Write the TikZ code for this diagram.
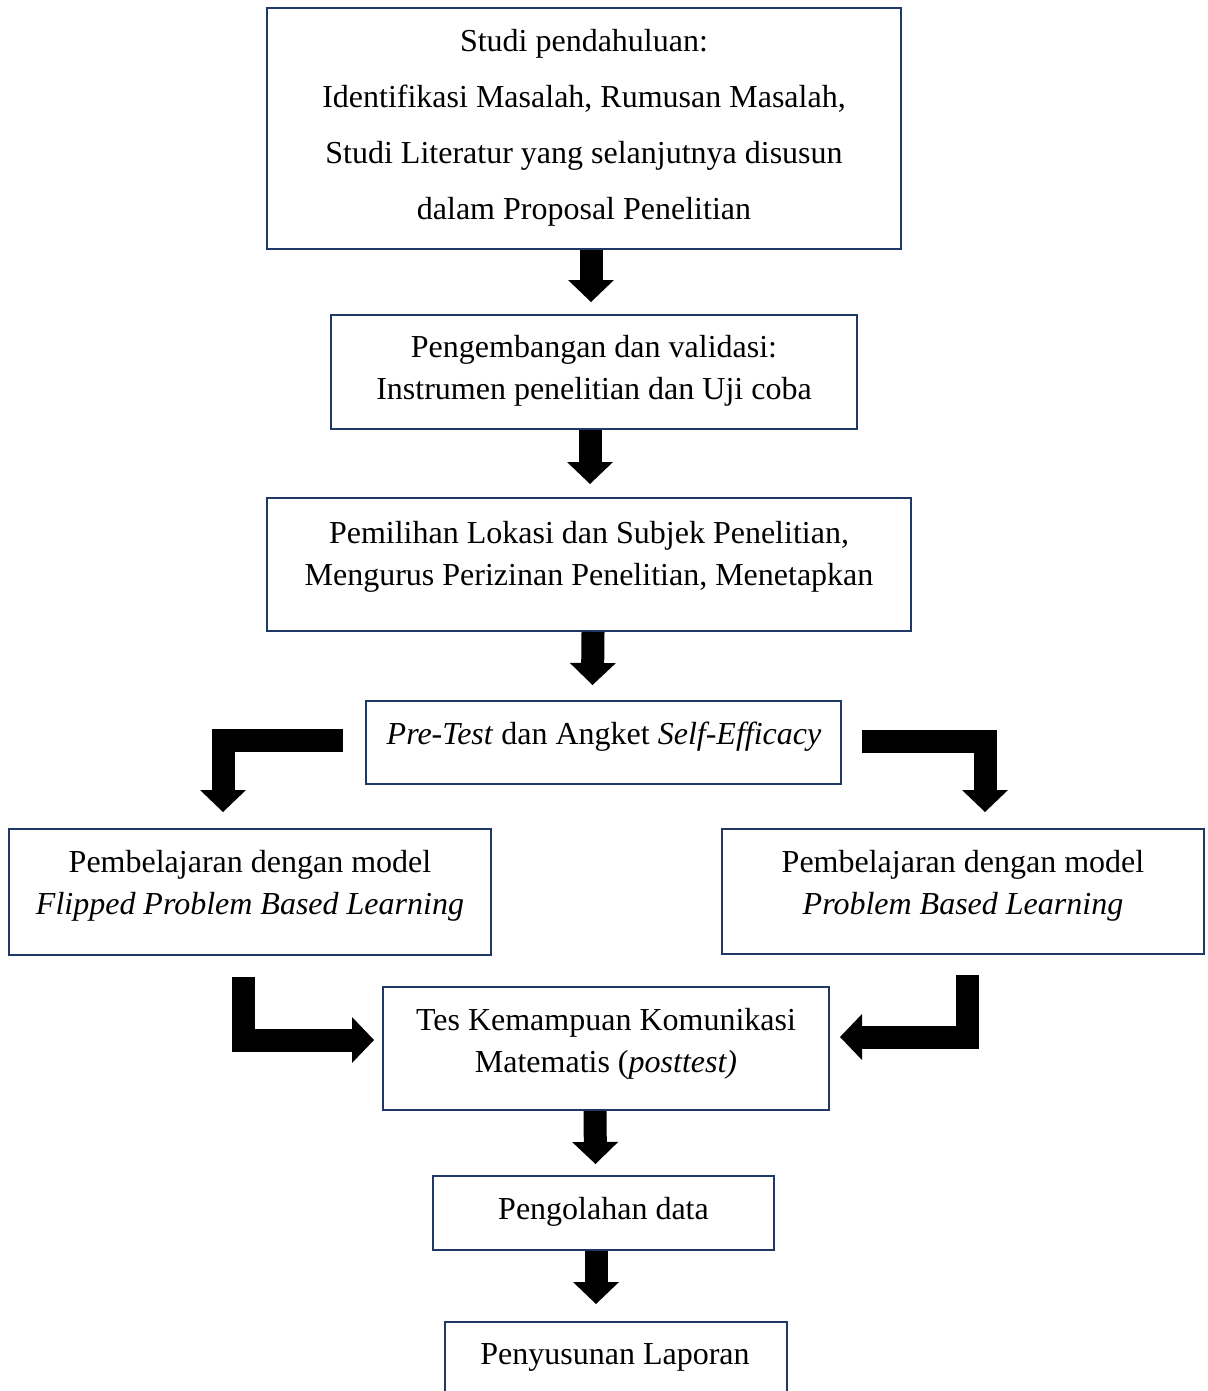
\documentclass[tikz,border=0pt]{standalone}
\usepackage{fontspec}
\setmainfont{Liberation Serif}
\usetikzlibrary{arrows.meta}
\definecolor{boxline}{HTML}{1F3864}
\begin{document}
\begin{tikzpicture}[x=0.5pt,y=-0.5pt,
  box/.style={draw=boxline,line width=1pt,inner sep=0pt},
  txt/.style={align=center,inner sep=0pt,font=\fontsize{16}{21}\selectfont},
  barrow/.style={line width=11.5pt,line join=miter,
    -{Triangle[width=23pt,length=11pt,line width=0pt]}}]
\useasboundingbox (0,0) rectangle (1208,1391);
% boxes
\node[box,minimum width=317pt,minimum height=120.5pt] (b1) at (584,128.5) {};
\node[box,minimum width=263pt,minimum height=57pt] (b2) at (594,372) {};
\node[box,minimum width=322pt,minimum height=66.5pt] (b3) at (589,564.5) {};
\node[box,minimum width=237.5pt,minimum height=41.5pt] (b4) at (603.5,742.5) {};
\node[box,minimum width=241pt,minimum height=63pt] (b5) at (250,892) {};
\node[box,minimum width=241pt,minimum height=62.5pt] (b6) at (963,891.5) {};
\node[box,minimum width=223pt,minimum height=61.5pt] (b7) at (606,1048.5) {};
\node[box,minimum width=170.5pt,minimum height=37pt] (b8) at (603.5,1213) {};
\node[box,minimum width=171pt,minimum height=60pt] (b9) at (616,1382) {};
% texts
\node[txt,font=\fontsize{16}{28}\selectfont] (t1) at (584,128) {Studi pendahuluan:\\Identifikasi Masalah, Rumusan Masalah,\\Studi Literatur yang selanjutnya disusun\\dalam Proposal Penelitian};
\node[txt] (t2) at (594,371) {Pengembangan dan validasi:\\Instrumen penelitian dan Uji coba};
\node[txt] (t3) at (589,557) {Pemilihan Lokasi dan Subjek Penelitian,\\Mengurus Perizinan Penelitian, Menetapkan};
\node[txt] (t4) at (604,737) {\textit{Pre-Test} dan Angket \textit{Self-Efficacy}};
\node[txt] (t5) at (250,886) {Pembelajaran dengan model\\\textit{Flipped Problem Based Learning}};
\node[txt] (t6) at (963,885.5) {Pembelajaran dengan model\\\textit{Problem Based Learning}};
\node[txt] (t7) at (606,1043.5) {Tes Kemampuan Komunikasi\\Matematis (\textit{posttest)}};
\node[txt] (t8) at (603.5,1212) {Pengolahan data};
\node[txt] (t9) at (615,1357) {Penyusunan Laporan};
% arrows
\draw[barrow] ([xshift=3.5pt]b1.south) -- ([xshift=-1.5pt,yshift=6pt]b2.north);
\draw[barrow] ([xshift=-2pt]b2.south) -- ([xshift=0.5pt,yshift=6.5pt]b3.north);
\draw[barrow] ([xshift=2pt]b3.south) -- ([xshift=-5.5pt,yshift=7.5pt]b4.north);
\draw[barrow] ([xshift=-11pt,yshift=1.25pt]b4.west) -| ([xshift=-13.5pt,yshift=8pt]b5.north);
\draw[barrow] ([xshift=10pt,yshift=0.75pt]b4.east) -| ([xshift=11pt,yshift=8pt]b6.north);
\draw[barrow] ([xshift=-3.25pt,yshift=-10.5pt]b5.south) |- ([xshift=-4pt,yshift=4.25pt]b7.west);
\draw[barrow] ([xshift=2pt,yshift=-10pt]b6.south) |- ([xshift=5pt,yshift=5.75pt]b7.east);
\draw[barrow] ([xshift=-5.5pt]b7.south) -- ([xshift=-4pt,yshift=5.5pt]b8.north);
\draw[barrow] ([xshift=-3.75pt]b8.south) -- ([xshift=-10pt,yshift=8.5pt]b9.north);
\end{tikzpicture}
\end{document}
